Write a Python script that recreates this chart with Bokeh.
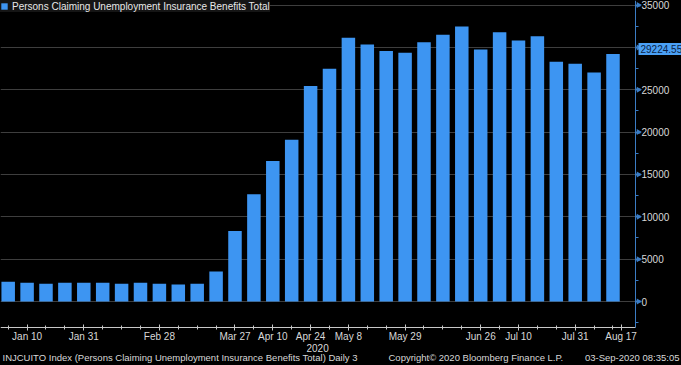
import math
import pandas as pd
from bokeh.plotting import figure
from bokeh.models import ColumnDataSource, Range1d, FixedTicker, Label
from bokeh.embed import file_html
from bokeh.resources import INLINE

# ---- data ----
week_dates = ["2020-01-03", "2020-01-10", "2020-01-17", "2020-01-24", "2020-01-31",
              "2020-02-07", "2020-02-14", "2020-02-21", "2020-02-28",
              "2020-03-06", "2020-03-13", "2020-03-20", "2020-03-27",
              "2020-04-03", "2020-04-10", "2020-04-17", "2020-04-24",
              "2020-05-01", "2020-05-08", "2020-05-15", "2020-05-22", "2020-05-29",
              "2020-06-05", "2020-06-12", "2020-06-19", "2020-06-26",
              "2020-07-03", "2020-07-10", "2020-07-17", "2020-07-24", "2020-07-31",
              "2020-08-07", "2020-08-14"]
claims = [2330, 2210, 2090, 2210, 2210, 2210, 2090, 2210, 2090, 2010, 2090,
          3550, 8320, 12650, 16600, 19110, 25460, 27470,
          31130, 30340, 29590, 29360, 30610, 31490, 32470, 29750, 31800,
          30810, 31320, 28300, 28060, 27030, 29224.55]
tick_dates = ["2020-01-10", "2020-01-31", "2020-02-28", "2020-03-27", "2020-04-10",
              "2020-04-24", "2020-05-08", "2020-05-29", "2020-06-26", "2020-07-10",
              "2020-07-31", "2020-08-17"]
tick_labels = ["Jan 10", "Jan 31", "Feb 28", "Mar 27", "Apr 10", "Apr 24", "May 8",
               "May 29", "Jun 26", "Jul 10", "Jul 31", "Aug 17"]
y_ticks = [0, 5000, 10000, 15000, 20000, 25000, 30000, 35000]
last_value = 29224.55
series_name = "Persons Claiming Unemployment Insurance Benefits Total"
year_label = "2020"
footer_left = "INJCUITO Index (Persons Claiming Unemployment Insurance Benefits Total)   Daily 3"
footer_mid = "Copyright\u00a9 2020 Bloomberg Finance L.P."
footer_right = "03-Sep-2020 08:35:05"

FONT = "Liberation Sans"
BG = "#000000"
BAR = "#3d95f2"
TXT = "#d8d8d8"
AXBLUE = "#3b7cc4"
TAGBLUE = "#4aa0f5"

W, H = 681, 365
dates = pd.to_datetime(week_dates)
day = pd.Timedelta(days=1)
epoch = pd.Timestamp("1970-01-01")

def ms(t):
    return (pd.Timestamp(t) - epoch) / pd.Timedelta(milliseconds=1)

# layout geometry (pixels of the canvas)
AX_X = 635      # right axis position
AX_Y = 327      # bottom axis position
px_per_day = 2.7
x_start = dates[0] - 2.85 * day
x_axis_pos = x_start + (AX_X / px_per_day) * day
x_end = x_start + (W / px_per_day) * day
y_low_at_axis = -3070
units_per_px = 118.08
y_end = y_low_at_axis + AX_Y * units_per_px
y_start = y_low_at_axis - (H - AX_Y) * units_per_px

source = ColumnDataSource(dict(date=dates, value=claims))

p = figure(width=W, height=H, output_backend="svg", toolbar_location=None,
           x_axis_type="datetime", y_axis_location="right",
           x_range=Range1d(x_start, x_end), y_range=Range1d(y_start, y_end),
           background_fill_color=BG, border_fill_color=BG,
           min_border=0)
p.outline_line_color = None

p.vbar(x="date", top="value", width=5 * 86400000, source=source,
       fill_color=BAR, line_color=None, legend_label=series_name)

# grid lines end at the right axis
gr = p.ygrid[0]
gr.ticker = FixedTicker(ticks=y_ticks)
gr.grid_line_color = "#3e3e3e"
gr.grid_line_width = 1
if "cross_bounds" in gr.properties():
    gr.cross_bounds = (ms(x_start), ms(x_axis_pos))
else:
    p.quad(left=[x_axis_pos], right=[x_end], bottom=[y_start], top=[y_end],
           fill_color=BG, line_color=None)
p.xgrid.grid_line_color = None

# right axis
ya = p.yaxis[0]
ya.fixed_location = ms(x_axis_pos)
ya.bounds = (y_low_at_axis, y_end)
ya.ticker = FixedTicker(ticks=y_ticks,
                        minor_ticks=list(range(-2500, 35001, 2500)))
ya.axis_line_color = AXBLUE
ya.major_tick_line_color = AXBLUE
ya.major_tick_line_width = 2
ya.major_tick_out = 5
ya.major_tick_in = 0
ya.minor_tick_line_color = AXBLUE
ya.minor_tick_out = 3
ya.minor_tick_in = 0
ya.major_label_text_color = TXT
ya.major_label_text_font = FONT
ya.major_label_text_font_size = "10px"
ya.major_label_standoff = 1

# arrowheads on the major y ticks
p.scatter(x=[x_axis_pos + 1.1 * day] * len(y_ticks), y=y_ticks, marker="triangle",
          angle=-math.pi / 2, size=6, fill_color=AXBLUE, line_color=None)

# bottom axis
xa = p.xaxis[0]
xa.fixed_location = y_low_at_axis
xa.bounds = (ms(x_start), ms(x_axis_pos))
tick_ms = [ms(t) for t in tick_dates]
xa.ticker = FixedTicker(ticks=tick_ms, minor_ticks=[ms(d) for d in dates])
xa.major_label_overrides = {v: lab for v, lab in zip(tick_ms, tick_labels)}
xa.axis_line_color = "#c8c8c8"
xa.major_tick_line_color = "#c8c8c8"
xa.major_tick_out = 3
xa.major_tick_in = 3
xa.minor_tick_line_color = "#c8c8c8"
xa.minor_tick_out = 2
xa.minor_tick_in = 2
xa.major_label_text_color = TXT
xa.major_label_text_font = FONT
xa.major_label_text_font_size = "10px"
xa.major_label_standoff = 0

# legend
lg = p.legend[0]
lg.location = "top_left"
lg.margin = 0
lg.padding = 5
lg.background_fill_color = "#151515"
lg.background_fill_alpha = 1
lg.border_line_color = None
lg.glyph_width = 8
lg.glyph_height = 8
lg.label_text_font = FONT
lg.label_text_font_size = "10px"
lg.label_text_color = "#e8e8e8"
lg.label_standoff = 4
lg.label_height = 12

# last value tag
tag = Label(x=AX_X + 3, x_units="screen", y=last_value, y_units="data", y_offset=5,
            text=f"{last_value:.2f}", text_baseline="middle",
            text_color="#0a1f45", text_font=FONT, text_font_size="10px",
            background_fill_color=TAGBLUE, background_fill_alpha=1, level="overlay")
if "padding" in tag.properties():
    tag.padding = 2
p.add_layout(tag)

# year under the Apr 24 label
p.add_layout(Label(x=pd.Timestamp("2020-04-24"), y=H - 347, y_units="screen",
                   x_offset=7, text=year_label, text_align="center",
                   text_baseline="middle", text_color=TXT, text_font=FONT,
                   text_font_size="10px"))

# footer
for fx, ft, al in [(2, footer_left, "left"), (388, footer_mid, "left"),
                   (679, footer_right, "right")]:
    p.add_layout(Label(x=fx, x_units="screen", y=H - 357, y_units="screen", text=ft,
                       text_align=al, text_baseline="middle", text_color=TXT,
                       text_font=FONT, text_font_size="9.5px"))

html = file_html(p, INLINE)
html = html.replace("<head>", "<head><style>html,body{margin:0;padding:0;background:#000;}</style>", 1)
open("out.html", "w").write(html)
